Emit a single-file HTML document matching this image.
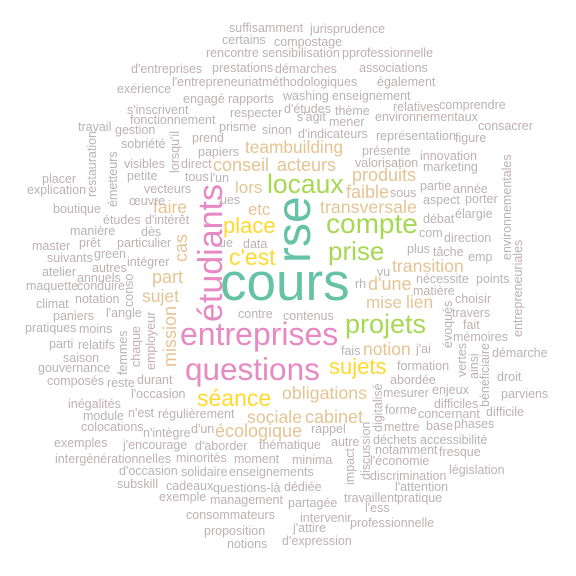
<!DOCTYPE html>
<html><head><meta charset="utf-8"><style>
html,body{margin:0;padding:0;background:#fff;}
svg{display:block;}
text{font-family:"Liberation Sans",sans-serif;}
.g{fill:#bdb1b3;font-size:12.5px;}
.t{fill:#e5c494;font-size:18px;}
.y{fill:#ffd92f;}
.gr{fill:#a6d854;}
.te{fill:#66c2a5;}
.p{fill:#e78ac3;}
</style></head><body>
<svg width="576" height="576" viewBox="0 0 576 576">
<g>
<text class="te" x="220" y="300" style="font-size:53px">cours</text>
<text class="te" transform="translate(310,263) rotate(-90)" style="font-size:48px">rse</text>
<text class="p" transform="translate(222,322) rotate(-90)" style="font-size:34px">étudiants</text>
<text class="p" x="180" y="345" style="font-size:32px">entreprises</text>
<text class="p" x="185" y="380" style="font-size:31.5px">questions</text>
<text class="gr" x="267" y="193" style="font-size:26.5px">locaux</text>
<text class="gr" x="326" y="233" style="font-size:28px">compte</text>
<text class="gr" x="328" y="260" style="font-size:26px">prise</text>
<text class="gr" x="345" y="333" style="font-size:27px">projets</text>
<text class="y" x="223" y="233" style="font-size:22px">place</text>
<text class="y" x="229" y="265" style="font-size:23px">c'est</text>
<text class="y" x="197" y="406" style="font-size:23px">séance</text>
<text class="y" x="329" y="374" style="font-size:22px">sujets</text>
</g>
<g>
<text class="t" x="245" y="153" style="font-size:17.3px">teambuilding</text>
<text class="t" x="213" y="171">conseil</text>
<text class="t" x="277" y="171">acteurs</text>
<text class="t" x="352" y="181">produits</text>
<text class="t" x="235" y="193" style="font-size:17px">lors</text>
<text class="t" x="346" y="198">faible</text>
<text class="t" x="320" y="213" style="font-size:17.8px">transversale</text>
<text class="t" x="392" y="272" style="font-size:17.7px">transition</text>
<text class="t" x="368" y="290">d'une</text>
<text class="t" x="366" y="308" style="font-size:17px">mise</text>
<text class="t" x="406" y="308" style="font-size:17.5px">lien</text>
<text class="t" x="363" y="355" style="font-size:17.5px">notion</text>
<text class="t" x="282" y="399" style="font-size:17.8px">obligations</text>
<text class="t" x="247" y="423" style="font-size:17.7px">sociale</text>
<text class="t" x="305" y="423">cabinet</text>
<text class="t" x="215" y="437">écologique</text>
<text class="t" x="153" y="213" style="font-size:17.5px">faire</text>
<text class="t" x="248" y="215" style="font-size:16.7px">etc</text>
<text class="t" x="152" y="283">part</text>
<text class="t" x="142" y="302" style="font-size:17.5px">sujet</text>
<text class="t" transform="translate(187,262) rotate(-90)">cas</text>
<text class="t" transform="translate(176,367) rotate(-90)">mission</text>
</g>
<g>
<text class="g" x="229" y="32">suffisamment</text>
<text class="g" x="310" y="33">jurisprudence</text>
<text class="g" x="222" y="44">certains</text>
<text class="g" x="274" y="46">compostage</text>
<text class="g" x="206" y="57">rencontre</text>
<text class="g" x="262" y="57">sensibilisation</text>
<text class="g" x="342" y="57">pprofessionnelle</text>
<text class="g" x="131" y="73">d'entreprises</text>
<text class="g" x="212" y="72">prestations</text>
<text class="g" x="275" y="73">démarches</text>
<text class="g" x="359" y="72">associations</text>
<text class="g" x="172" y="86">l'entrepreneuriat</text>
<text class="g" x="262" y="86">méthodologiques</text>
<text class="g" x="377" y="86">également</text>
<text class="g" x="117" y="93">exérience</text>
<text class="g" x="183" y="103">engagé</text>
<text class="g" x="228" y="103">rapports</text>
<text class="g" x="283" y="100">washing</text>
<text class="g" x="332" y="100">enseignement</text>
<text class="g" x="127" y="114">s'inscrivent</text>
<text class="g" x="230" y="117">respecter</text>
<text class="g" x="284" y="113">d'études</text>
<text class="g" x="335" y="115">thème</text>
<text class="g" x="393" y="111">relatives</text>
<text class="g" x="439" y="109">comprendre</text>
<text class="g" x="130" y="124">fonctionnement</text>
<text class="g" x="297" y="121">s'agit</text>
<text class="g" x="329" y="126">mener</text>
<text class="g" x="375" y="121">environnementaux</text>
<text class="g" x="478" y="130">consacrer</text>
<text class="g" x="78" y="131">travail</text>
<text class="g" x="115" y="134">gestion</text>
<text class="g" x="219" y="131">prisme</text>
<text class="g" x="262" y="134">sinon</text>
<text class="g" x="298" y="138">d'indicateurs</text>
<text class="g" x="376" y="140">représentation</text>
<text class="g" x="455" y="142">figure</text>
<text class="g" x="121" y="148">sobriété</text>
<text class="g" x="192" y="142">prend</text>
<text class="g" x="198" y="156">papiers</text>
<text class="g" x="362" y="155">présente</text>
<text class="g" x="420" y="160">innovation</text>
<text class="g" x="355" y="167">valorisation</text>
<text class="g" x="423" y="171">marketing</text>
<text class="g" x="124" y="168">visibles</text>
<text class="g" x="181" y="168">direct</text>
<text class="g" x="127" y="180">petite</text>
<text class="g" x="185" y="181">tous</text>
<text class="g" x="210" y="182">l'un</text>
<text class="g" x="42" y="183">placer</text>
<text class="g" x="27" y="194">explication</text>
<text class="g" x="144" y="193">vecteurs</text>
<text class="g" x="420" y="190">partie</text>
<text class="g" x="453" y="193">année</text>
<text class="g" x="390" y="197">sous</text>
<text class="g" x="423" y="204">aspect</text>
<text class="g" x="465" y="203">porter</text>
<text class="g" x="129" y="205">œuvre</text>
<text class="g" x="53" y="213">boutique</text>
<text class="g" x="220" y="204">ues</text>
<text class="g" x="423" y="223">débat</text>
<text class="g" x="455" y="218">élargie</text>
<text class="g" x="103" y="224">études</text>
<text class="g" x="145" y="224">d'intérêt</text>
<text class="g" x="70" y="235">manière</text>
<text class="g" x="141" y="236">dès</text>
<text class="g" x="419" y="237">com</text>
<text class="g" x="444" y="242">direction</text>
<text class="g" x="32" y="250">master</text>
<text class="g" x="79" y="247">prêt</text>
<text class="g" x="117" y="247">particulier</text>
<text class="g" x="219" y="247">ue</text>
<text class="g" x="243" y="248">data</text>
<text class="g" x="407" y="253">plus</text>
<text class="g" x="433" y="256">tâche</text>
<text class="g" x="468" y="261">emp</text>
<text class="g" x="47" y="262">suivants</text>
<text class="g" x="94" y="258">green</text>
<text class="g" x="127" y="266">intégrer</text>
<text class="g" x="42" y="276">atelier</text>
<text class="g" x="92" y="272">autres</text>
<text class="g" x="77" y="282">annuels</text>
<text class="g" x="377" y="276">vu</text>
<text class="g" x="416" y="283">nécessite</text>
<text class="g" x="476" y="283">points</text>
<text class="g" x="355" y="288">rh</text>
<text class="g" x="413" y="295">matière</text>
<text class="g" x="26" y="290">maquette</text>
<text class="g" x="77" y="290">conduire</text>
<text class="g" x="455" y="303">choisir</text>
<text class="g" x="75" y="303">notation</text>
<text class="g" x="36" y="308">climat</text>
<text class="g" x="452" y="317">travers</text>
<text class="g" x="53" y="320">paniers</text>
<text class="g" x="106" y="317">l'angle</text>
<text class="g" x="238" y="318">contre</text>
<text class="g" x="283" y="320">contenus</text>
<text class="g" x="463" y="329">fait</text>
<text class="g" x="25" y="332">pratiques</text>
<text class="g" x="79" y="333">moins</text>
<text class="g" x="453" y="341">mémoires</text>
<text class="g" x="49" y="348">parti</text>
<text class="g" x="78" y="349">relatifs</text>
<text class="g" x="341" y="355">fais</text>
<text class="g" x="416" y="353">j'ai</text>
<text class="g" x="492" y="357">démarche</text>
<text class="g" x="63" y="362">saison</text>
<text class="g" x="397" y="370">formation</text>
<text class="g" x="38" y="372">gouvernance</text>
<text class="g" x="497" y="381">droit</text>
<text class="g" x="390" y="384">abordée</text>
<text class="g" x="47" y="385">composés</text>
<text class="g" x="107" y="387">reste</text>
<text class="g" x="137" y="384">durant</text>
<text class="g" x="383" y="397">mesurer</text>
<text class="g" x="432" y="394">enjeux</text>
<text class="g" x="501" y="398">parviens</text>
<text class="g" x="131" y="398">l'occasion</text>
<text class="g" x="68" y="408">inégalités</text>
<text class="g" x="434" y="408">difficiles</text>
<text class="g" x="385" y="414">forme</text>
<text class="g" x="418" y="418">concernant</text>
<text class="g" x="486" y="416">difficile</text>
<text class="g" x="83" y="420">module</text>
<text class="g" x="128" y="417">n'est</text>
<text class="g" x="158" y="418">régulièrement</text>
<text class="g" x="81" y="431">colocations</text>
<text class="g" x="143" y="437">n'intègre</text>
<text class="g" x="191" y="433">d'un</text>
<text class="g" x="311" y="433">rappel</text>
<text class="g" x="384" y="431">mettre</text>
<text class="g" x="426" y="430">base</text>
<text class="g" x="454" y="428">phases</text>
<text class="g" x="54" y="447">exemples</text>
<text class="g" x="123" y="449">j'encourage</text>
<text class="g" x="195" y="450">d'aborder</text>
<text class="g" x="259" y="449">thématique</text>
<text class="g" x="331" y="446">autre</text>
<text class="g" x="373" y="444">déchets</text>
<text class="g" x="420" y="444">accessibilité</text>
<text class="g" x="375" y="454">notamment</text>
<text class="g" x="439" y="456">fresque</text>
<text class="g" x="55" y="463">intergénérationnelles</text>
<text class="g" x="176" y="462">minorités</text>
<text class="g" x="234" y="463">moment</text>
<text class="g" x="292" y="464">minima</text>
<text class="g" x="370" y="465">l'économie</text>
<text class="g" x="449" y="474">législation</text>
<text class="g" x="119" y="475">d'occasion</text>
<text class="g" x="181" y="476">solidaire</text>
<text class="g" x="229" y="476">enseignements</text>
<text class="g" x="370" y="480">discrimination</text>
<text class="g" x="117" y="488">subskill</text>
<text class="g" x="166" y="490">cadeaux</text>
<text class="g" x="213" y="492">questions-là</text>
<text class="g" x="284" y="491">dédiée</text>
<text class="g" x="395" y="491">l'attention</text>
<text class="g" x="159" y="501">exemple</text>
<text class="g" x="210" y="504">management</text>
<text class="g" x="288" y="507">partagée</text>
<text class="g" x="344" y="502">travaillent</text>
<text class="g" x="397" y="502">pratique</text>
<text class="g" x="365" y="512">l'ess</text>
<text class="g" x="186" y="519">consommateurs</text>
<text class="g" x="300" y="522">intervenir</text>
<text class="g" x="350" y="527">professionnelle</text>
<text class="g" x="293" y="532">j'attire</text>
<text class="g" x="204" y="535">proposition</text>
<text class="g" x="282" y="545">d'expression</text>
<text class="g" x="227" y="548">notions</text>
</g>
<g>
<text class="g" transform="translate(96,197) rotate(-90)">restauration</text>
<text class="g" transform="translate(117,207) rotate(-90)">émetteurs</text>
<text class="g" transform="translate(179,173) rotate(-90)">lorsqu'il</text>
<text class="g" transform="translate(133,307) rotate(-90)">conso</text>
<text class="g" transform="translate(155,370) rotate(-90)">employeur</text>
<text class="g" transform="translate(140,367) rotate(-90)">chaque</text>
<text class="g" transform="translate(127,375) rotate(-90)">femmes</text>
<text class="g" transform="translate(511,260) rotate(-90)">environnementales</text>
<text class="g" transform="translate(522,337) rotate(-90)">entrepreneuriales</text>
<text class="g" transform="translate(452,348) rotate(-90)">évoqués</text>
<text class="g" transform="translate(466,377) rotate(-90)">vertes</text>
<text class="g" transform="translate(478,379) rotate(-90)">ainsi</text>
<text class="g" transform="translate(489,407) rotate(-90)">bénéficiaire</text>
<text class="g" transform="translate(382,432) rotate(-90)">digitalisé</text>
<text class="g" transform="translate(370,480) rotate(-90)">discussion</text>
<text class="g" transform="translate(354,485) rotate(-90)">impact</text>
</g>
</svg>
</body></html>
